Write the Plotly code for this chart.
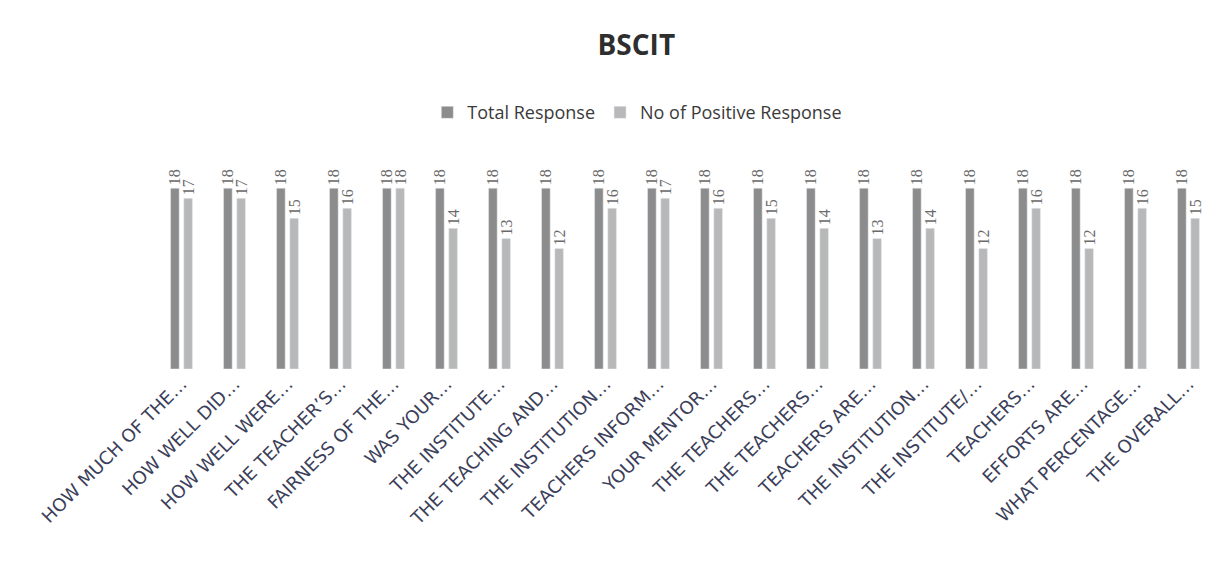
import plotly.graph_objects as go

categories = [
    "HOW MUCH OF THE…", "HOW WELL DID…", "HOW WELL WERE…", "THE TEACHER’S…",
    "FAIRNESS OF THE…", "WAS YOUR…", "THE INSTITUTE…", "THE TEACHING AND…",
    "THE INSTITUTION…", "TEACHERS INFORM…", "YOUR MENTOR…", "THE TEACHERS…",
    "THE TEACHERS…", "TEACHERS ARE…", "THE INSTITUTION…", "THE INSTITUTE/…",
    "TEACHERS…", "EFFORTS ARE…", "WHAT PERCENTAGE…", "THE OVERALL…",
]
total_response = [18] * 20
positive_response = [17, 17, 15, 16, 18, 14, 13, 12, 16, 17, 16, 15, 14, 13, 14, 12, 16, 12, 16, 15]

x = list(range(len(categories)))

label_font = dict(family="Liberation Serif", size=16, color="#6a6a6a")

fig = go.Figure()
fig.add_trace(go.Bar(
    name="Total Response", x=x, y=total_response,
    marker=dict(color="#8c8c8c"),
    text=total_response, textposition="outside", textangle=-90,
    textfont=label_font, constraintext="none", cliponaxis=False,
))
fig.add_trace(go.Bar(
    name="No of Positive Response", x=x, y=positive_response,
    marker=dict(color="#b8b8b8"),
    text=positive_response, textposition="outside", textangle=-90,
    textfont=label_font, constraintext="none", cliponaxis=False,
))

fig.update_layout(
    width=1213, height=577,
    paper_bgcolor="white", plot_bgcolor="white",
    margin=dict(l=147, r=6, t=140, b=216, autoexpand=False),
    barmode="group", bargap=0.5, bargroupgap=0.35,
    title=dict(text="<b>BSCIT</b>", x=0.518, xanchor="center", y=0.935, yanchor="middle",
               font=dict(family="Open Sans", size=28, color="#2e2e2e")),
    legend=dict(orientation="h", x=0.455, xanchor="center", y=1.16, yanchor="middle",
                font=dict(family="Open Sans", size=18, color="#3a3a3a"),
                itemwidth=30, traceorder="normal"),
    xaxis=dict(tickmode="array", tickvals=x, ticktext=categories, tickangle=-45,
               showgrid=False, showline=False, ticks="", range=[-0.5, 19.5],
               tickfont=dict(family="DejaVu Sans", size=18, color="#3c3f5a")),
    yaxis=dict(range=[0, 22], visible=False),
)

fig.write_html("out.html")
